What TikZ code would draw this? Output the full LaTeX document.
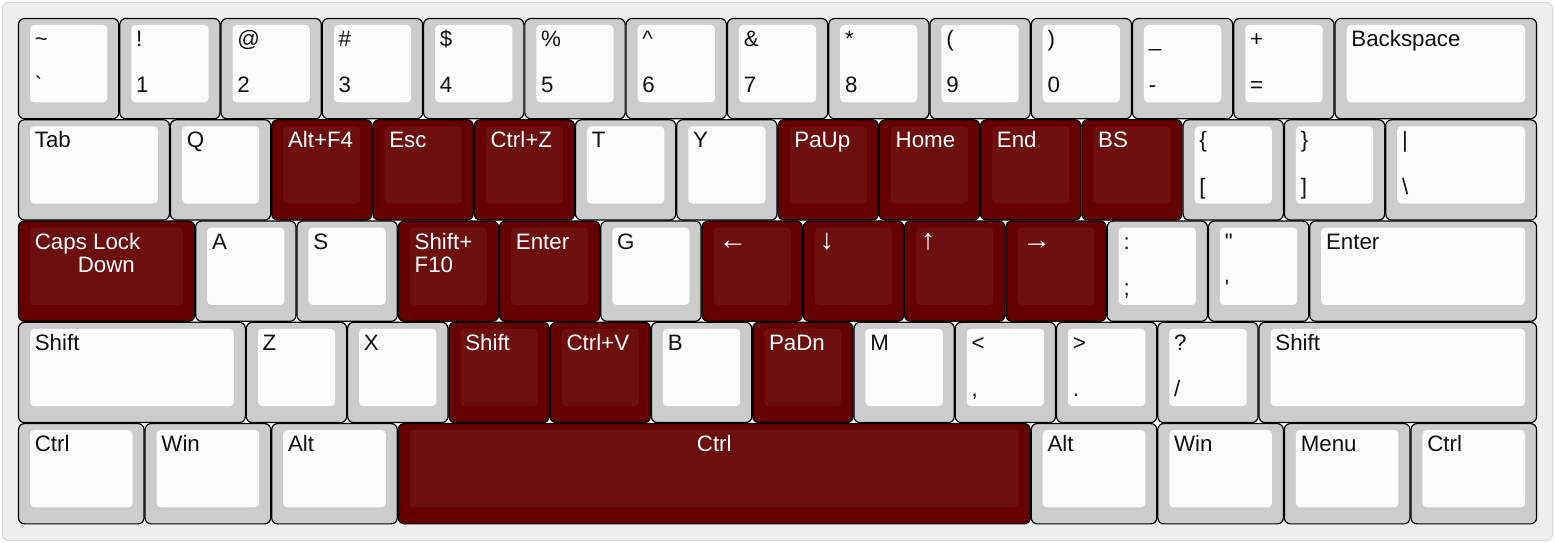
\documentclass[tikz,border=0pt]{standalone}
\usepackage{fontspec}
\setmainfont{Liberation Sans}
\usepackage{xcolor}
\usepackage{tikz}
\definecolor{kbgrey}{HTML}{CCCCCC}
\definecolor{kbcap}{HTML}{FCFCFC}
\definecolor{kbred}{HTML}{640000}
\definecolor{kbredcap}{HTML}{6E0F0F}
\definecolor{kbback}{HTML}{EEEEEE}
\definecolor{kbink}{HTML}{111111}
\tikzset{
  kbframe/.style={fill=kbback, draw=kbback!90!black, line width=0.02cm, rounded corners=0.12cm},
  greyout/.style={fill=kbgrey, draw=black, line width=0.024cm, rounded corners=0.12cm},
  greyface/.style={fill=kbcap, rounded corners=0.08cm},
  greytext/.style={text=kbink, inner sep=0pt, font=\fontsize{12.7}{15}\selectfont},
  redout/.style={fill=kbred, draw=black, line width=0.024cm, rounded corners=0.12cm},
  redface/.style={fill=kbredcap, rounded corners=0.08cm},
  redtext/.style={text=white, inner sep=0pt, font=\fontsize{12.7}{15}\selectfont},
}
\newcommand{\ku}{2.0254}
\newcommand{\kbarrow}[1]{{\fontsize{16.5}{16.5}\selectfont #1}}
% name, column, row, width, kind, top label, bottom label
\newcommand{\kbkey}[7]{%
  \draw[#5out] ({#2*\ku+0.01},{-#3*\ku-0.01}) rectangle ({(#2+#4)*\ku-0.01},{-(#3+1)*\ku+0.01});
  \fill[#5face] ({#2*\ku+0.24},{-#3*\ku-0.14}) rectangle ({(#2+#4)*\ku-0.24},{-(#3+1)*\ku+0.34});
  \if\relax\detokenize{#6}\relax\else
    \node[#5text, anchor=base west] (#1-top) at ({#2*\ku+0.33},{-#3*\ku-0.57}) {#6};
  \fi
  \if\relax\detokenize{#7}\relax\else
    \node[#5text, anchor=base west] (#1-bot) at ({#2*\ku+0.33},{-#3*\ku-1.50}) {#7};
  \fi
}

\begin{document}
\begin{tikzpicture}
\useasboundingbox (0,0) rectangle (31.1,-10.86);
\fill[white] (0,0) rectangle (31.1,-10.86);
\draw[kbframe] (0.05,-0.05) rectangle (31.05,-10.81);
\begin{scope}[shift={(0.36,-0.36)}]
\fill[white] (0.12,-0.12) rectangle ({15*\ku-0.12},{-5*\ku+0.12});
\kbkey{tilde}{0}{0}{1}{grey}{\textasciitilde}{\textasciigrave}
\kbkey{one}{1}{0}{1}{grey}{!}{1}
\kbkey{two}{2}{0}{1}{grey}{@}{2}
\kbkey{three}{3}{0}{1}{grey}{\#}{3}
\kbkey{four}{4}{0}{1}{grey}{\$}{4}
\kbkey{five}{5}{0}{1}{grey}{\%}{5}
\kbkey{six}{6}{0}{1}{grey}{\textasciicircum}{6}
\kbkey{seven}{7}{0}{1}{grey}{\&}{7}
\kbkey{eight}{8}{0}{1}{grey}{*}{8}
\kbkey{nine}{9}{0}{1}{grey}{(}{9}
\kbkey{zero}{10}{0}{1}{grey}{)}{0}
\kbkey{minus}{11}{0}{1}{grey}{\_}{-}
\kbkey{equal}{12}{0}{1}{grey}{+}{=}
\kbkey{backspace}{13}{0}{2}{grey}{Backspace}{}
\kbkey{tab}{0}{1}{1.5}{grey}{Tab}{}
\kbkey{q}{1.5}{1}{1}{grey}{Q}{}
\kbkey{altffour}{2.5}{1}{1}{red}{Alt+F4}{}
\kbkey{esc}{3.5}{1}{1}{red}{Esc}{}
\kbkey{ctrlz}{4.5}{1}{1}{red}{Ctrl+Z}{}
\kbkey{t}{5.5}{1}{1}{grey}{T}{}
\kbkey{y}{6.5}{1}{1}{grey}{Y}{}
\kbkey{paup}{7.5}{1}{1}{red}{PaUp}{}
\kbkey{home}{8.5}{1}{1}{red}{Home}{}
\kbkey{end}{9.5}{1}{1}{red}{End}{}
\kbkey{bs}{10.5}{1}{1}{red}{BS}{}
\kbkey{lbrack}{11.5}{1}{1}{grey}{\{}{[}
\kbkey{rbrack}{12.5}{1}{1}{grey}{\}}{]}
\kbkey{bslash}{13.5}{1}{1.5}{grey}{\textbar}{\textbackslash}
\kbkey{caps}{0}{2}{1.75}{red}{Caps Lock}{}
\node[redtext, anchor=base west] (caps-second) at (1.19,{-2*\ku-1.03}) {Down};
\kbkey{a}{1.75}{2}{1}{grey}{A}{}
\kbkey{s}{2.75}{2}{1}{grey}{S}{}
\kbkey{shiftften}{3.75}{2}{1}{red}{Shift+}{}
\node[redtext, anchor=base west] (shiftften-second) at ({3.75*\ku+0.33},{-2*\ku-1.03}) {F10};
\kbkey{enterd}{4.75}{2}{1}{red}{Enter}{}
\kbkey{g}{5.75}{2}{1}{grey}{G}{}
\kbkey{left}{6.75}{2}{1}{red}{\kbarrow{←}}{}
\kbkey{down}{7.75}{2}{1}{red}{\kbarrow{↓}}{}
\kbkey{up}{8.75}{2}{1}{red}{\kbarrow{↑}}{}
\kbkey{right}{9.75}{2}{1}{red}{\kbarrow{→}}{}
\kbkey{semi}{10.75}{2}{1}{grey}{:}{;}
\kbkey{quote}{11.75}{2}{1}{grey}{\textquotedbl}{\textquotesingle}
\kbkey{enter}{12.75}{2}{2.25}{grey}{Enter}{}
\kbkey{lshift}{0}{3}{2.25}{grey}{Shift}{}
\kbkey{z}{2.25}{3}{1}{grey}{Z}{}
\kbkey{x}{3.25}{3}{1}{grey}{X}{}
\kbkey{shiftf}{4.25}{3}{1}{red}{Shift}{}
\kbkey{ctrlv}{5.25}{3}{1}{red}{Ctrl+V}{}
\kbkey{b}{6.25}{3}{1}{grey}{B}{}
\kbkey{padn}{7.25}{3}{1}{red}{PaDn}{}
\kbkey{m}{8.25}{3}{1}{grey}{M}{}
\kbkey{comma}{9.25}{3}{1}{grey}{\textless}{,}
\kbkey{period}{10.25}{3}{1}{grey}{\textgreater}{.}
\kbkey{slash}{11.25}{3}{1}{grey}{?}{/}
\kbkey{rshift}{12.25}{3}{2.75}{grey}{Shift}{}
\kbkey{lctrl}{0}{4}{1.25}{grey}{Ctrl}{}
\kbkey{lwin}{1.25}{4}{1.25}{grey}{Win}{}
\kbkey{lalt}{2.5}{4}{1.25}{grey}{Alt}{}
\kbkey{space}{3.75}{4}{6.25}{red}{}{}
\node[redtext, anchor=base] (space-top) at ({6.875*\ku},{-4*\ku-0.57}) {Ctrl};
\kbkey{ralt}{10}{4}{1.25}{grey}{Alt}{}
\kbkey{rwin}{11.25}{4}{1.25}{grey}{Win}{}
\kbkey{menu}{12.5}{4}{1.25}{grey}{Menu}{}
\kbkey{rctrl}{13.75}{4}{1.25}{grey}{Ctrl}{}
\end{scope}
\end{tikzpicture}
\end{document}
